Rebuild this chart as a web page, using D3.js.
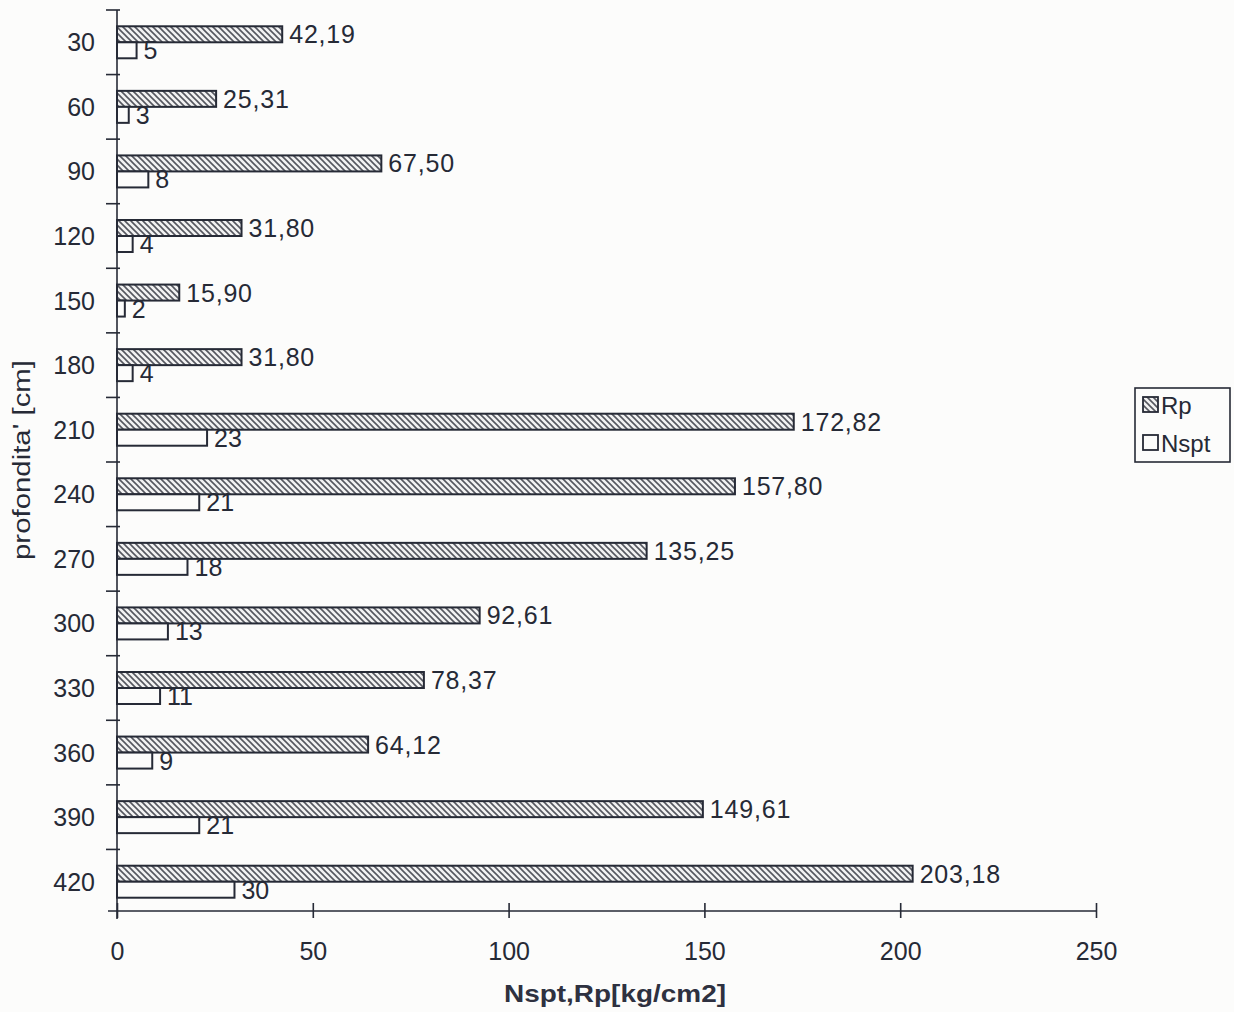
<!DOCTYPE html>
<html><head><meta charset="utf-8">
<script src="https://cdn.jsdelivr.net/npm/d3@7"></script>
<style>
html,body{margin:0;padding:0;background:#fcfcfb;}
svg{display:block;font-family:Arial,"Liberation Sans",sans-serif;}
</style></head>
<body>
<svg id="chart" width="1234" height="1012"></svg>
<script>
const depths = ["30","60","90","120","150","180","210","240","270","300","330","360","390","420"];
const rpValues = [42.19,25.31,67.50,31.80,15.90,31.80,172.82,157.80,135.25,92.61,78.37,64.12,149.61,203.18];
const nsptValues = [5,3,8,4,2,4,23,21,18,13,11,9,21,30];
const xTicks = [0,50,100,150,200,250];
const seriesNames = ["Rp","Nspt"];

const svg = d3.select("#chart");
const ink = "#262a36";
const bg = "#fcfcfb";

const defs = svg.append("defs");
const pat = defs.append("pattern").attr("id","hatch").attr("patternUnits","userSpaceOnUse")
  .attr("width",6).attr("height",6);
pat.append("rect").attr("width",6).attr("height",6).attr("fill","#f2f2f2");
pat.append("path").attr("d","M0,0 L6,6 M-3,3 L3,9 M3,-3 L9,3")
  .attr("stroke","#55575f").attr("stroke-width",1.6);

const x = d3.scaleLinear().domain([0,250]).range([117,1096]);
const y = d3.scaleBand().domain(depths).range([10,914]).paddingInner(0).paddingOuter(0);
const barH = 16;
const axisY = 911;

// y axis
const yAxisG = svg.append("g").attr("transform",`translate(${x(0)},0)`);
yAxisG.append("line").attr("x1",0).attr("x2",0).attr("y1",10).attr("y2",axisY+8).attr("stroke",ink).attr("stroke-width",1.6);
const bounds = d3.range(depths.length).map(i=>10+i*y.step());
yAxisG.selectAll("line.t").data(bounds).join("line").attr("class","t")
  .attr("x1",-11).attr("x2",3).attr("y1",d=>d).attr("y2",d=>d).attr("stroke",ink).attr("stroke-width",1.6);

// x axis
const xAxis = d3.axisBottom(x).tickValues(xTicks).tickSize(0).tickFormat(d3.format("d"));
const xg = svg.append("g").attr("transform",`translate(0,${axisY})`).call(xAxis);
xg.select(".domain").attr("stroke",ink).attr("stroke-width",1.6).attr("d",`M${x(0)-9},0H${x(250)}`);
xg.selectAll(".tick line").attr("y1",-8).attr("y2",7).attr("stroke",ink).attr("stroke-width",1.6);
xg.selectAll(".tick text").attr("dy",0).attr("y",49).attr("font-size",25).attr("fill",ink).attr("font-family","Arial,Liberation Sans,sans-serif");

// category labels
svg.append("g").selectAll("text").data(depths).join("text")
  .attr("x",95).attr("y",d=>y(d)+y.bandwidth()/2+9).attr("text-anchor","end")
  .attr("font-size",25).attr("fill",ink).text(d=>d);

const cy = d=>y(d)+y.bandwidth()/2;

// Rp bars
svg.append("g").selectAll("rect").data(depths).join("rect")
  .attr("x",x(0)).attr("y",d=>cy(d)-barH).attr("height",barH)
  .attr("width",(d,i)=>x(rpValues[i])-x(0))
  .attr("fill","url(#hatch)").attr("stroke",ink).attr("stroke-width",2);
// Nspt bars
svg.append("g").selectAll("rect").data(depths).join("rect")
  .attr("x",x(0)).attr("y",d=>cy(d)).attr("height",barH)
  .attr("width",(d,i)=>x(nsptValues[i])-x(0))
  .attr("fill",bg).attr("stroke",ink).attr("stroke-width",2);

const fmt = v => v.toFixed(2).replace(".",",");
// value labels
svg.append("g").selectAll("text").data(depths).join("text")
  .attr("x",(d,i)=>x(rpValues[i])+7).attr("y",d=>cy(d)+1)
  .attr("font-size",25).attr("letter-spacing",0.8).attr("fill",ink)
  .text((d,i)=>fmt(rpValues[i]));
svg.append("g").selectAll("text").data(depths).join("text")
  .attr("x",(d,i)=>x(nsptValues[i])+7).attr("y",d=>cy(d)+17)
  .attr("font-size",25).attr("fill",ink)
  .text((d,i)=>nsptValues[i]);

// axis titles
svg.append("text").attr("x",615).attr("y",1002).attr("text-anchor","middle")
  .attr("font-size",24).attr("font-weight","bold").attr("fill","#2e3140")
  .attr("textLength",222).attr("lengthAdjust","spacingAndGlyphs").text("Nspt,Rp[kg/cm2]");
svg.append("text").attr("transform","translate(30,460) rotate(-90)").attr("text-anchor","middle")
  .attr("font-size",23).attr("fill",ink)
  .attr("textLength",200).attr("lengthAdjust","spacingAndGlyphs").text("profondita' [cm]");

// legend
const lg = svg.append("g").attr("transform","translate(1135,388)");
lg.append("rect").attr("width",95).attr("height",74).attr("fill","none").attr("stroke",ink).attr("stroke-width",1.6);
const items = lg.selectAll("g").data(seriesNames).join("g").attr("transform",(d,i)=>`translate(8,${17+i*38})`);
items.append("rect").attr("x",0).attr("y",-8).attr("width",15).attr("height",15)
  .attr("fill",(d,i)=>i===0?"url(#hatch)":"none").attr("stroke",ink).attr("stroke-width",1.8);
items.append("text").attr("x",18).attr("y",9).attr("font-size",24).attr("fill",ink).text(d=>d);
</script>
</body></html>
